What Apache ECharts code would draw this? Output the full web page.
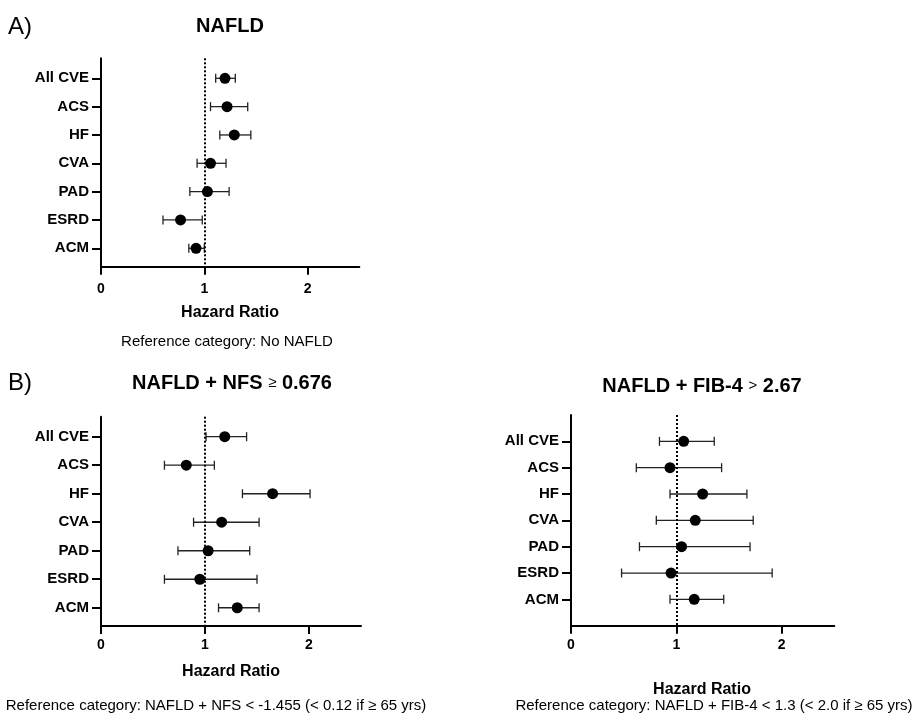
<!DOCTYPE html>
<html><head><meta charset="utf-8">
<script src="https://cdn.jsdelivr.net/npm/echarts@6/dist/echarts.min.js"></script>
<style>html,body{margin:0;padding:0;background:#fff}#c{width:919px;height:714px}</style>
</head><body><div id="c"></div>
<script>
// ---- data ----
const categories = ['All CVE', 'ACS', 'HF', 'CVA', 'PAD', 'ESRD', 'ACM'];
const xTicks = [0, 1, 2];

const nafldHR   = [1.20, 1.22, 1.29, 1.06, 1.03, 0.77, 0.92];
const nafldLow  = [1.11, 1.06, 1.15, 0.93, 0.86, 0.60, 0.85];
const nafldHigh = [1.30, 1.42, 1.45, 1.21, 1.24, 0.98, 1.00];

const nfsHR   = [1.19, 0.82, 1.65, 1.16, 1.03, 0.95, 1.31];
const nfsLow  = [1.01, 0.61, 1.36, 0.89, 0.74, 0.61, 1.13];
const nfsHigh = [1.40, 1.09, 2.01, 1.52, 1.43, 1.50, 1.52];

const fibHR   = [1.07, 0.94, 1.25, 1.18, 1.05, 0.95, 1.17];
const fibLow  = [0.84, 0.62, 0.94, 0.81, 0.65, 0.48, 0.94];
const fibHigh = [1.36, 1.43, 1.67, 1.73, 1.70, 1.91, 1.45];

// ---- layout ----
const panels = [
  { hr: nafldHR, lo: nafldLow, hi: nafldHigh, grid: { left: 101, right: 559.7, top: 58.3, bottom: 447.3 }, yMin: 0.294, yMax: 7.65, labelMargin: 15 },
  { hr: nfsHR, lo: nfsLow, hi: nfsHigh, grid: { left: 101, right: 558, top: 416.7, bottom: 88 }, yMin: 0.298, yMax: 7.64, labelMargin: 12 },
  { hr: fibHR, lo: fibLow, hi: fibHigh, grid: { left: 571, right: 84.7, top: 415, bottom: 88.3 }, yMin: 0, yMax: 8, labelMargin: 12 }
];

const FONT = '"Liberation Sans", Arial, sans-serif';
const grids = [], xAxes = [], yAxes = [], series = [];

panels.forEach((p, i) => {
  grids.push(Object.assign({ containLabel: false }, p.grid));
  xAxes.push({
    type: 'value', gridIndex: i, min: 0, max: 2.5, interval: 1,
    axisLine: { show: true, onZero: false, lineStyle: { color: '#000', width: 2 } },
    axisTick: { show: true, length: 8, lineStyle: { color: '#000', width: 2 }, customValues: xTicks },
    axisLabel: { customValues: xTicks, margin: p.labelMargin, color: '#000', fontFamily: FONT, fontWeight: 'bold', fontSize: 14 },
    splitLine: { show: false }
  });
  yAxes.push({
    type: 'value', gridIndex: i, inverse: true, min: p.yMin, max: p.yMax,
    axisLine: { show: true, onZero: false, lineStyle: { color: '#000', width: 2 } },
    axisTick: { show: true, length: 9, lineStyle: { color: '#000', width: 2 }, customValues: [1, 2, 3, 4, 5, 6, 7] },
    axisLabel: {
      customValues: [1, 2, 3, 4, 5, 6, 7], margin: 12, color: '#000',
      fontFamily: FONT, fontWeight: 'bold', fontSize: 15,
      formatter: v => categories[Math.round(v) - 1] || ''
    },
    splitLine: { show: false }
  });
  const errData = categories.map((c, k) => [p.lo[k], p.hi[k], k + 1]);
  series.push({
    type: 'custom', xAxisIndex: i, yAxisIndex: i, z: 2,
    data: errData,
    encode: { x: [0, 1], y: 2 },
    renderItem: (params, api) => {
      const a = api.coord([api.value(0), api.value(2)]);
      const b = api.coord([api.value(1), api.value(2)]);
      const h = 4.5;
      const st = { stroke: '#222', lineWidth: 1.3 };
      return {
        type: 'group', children: [
          { type: 'line', shape: { x1: a[0], y1: a[1], x2: b[0], y2: b[1] }, style: st },
          { type: 'line', shape: { x1: a[0], y1: a[1] - h, x2: a[0], y2: a[1] + h }, style: st },
          { type: 'line', shape: { x1: b[0], y1: b[1] - h, x2: b[0], y2: b[1] + h }, style: st }
        ]
      };
    },
    markLine: {
      silent: true, symbol: ['none', 'none'], label: { show: false },
      lineStyle: { color: '#000', width: 2, type: [2, 2] },
      data: [{ xAxis: 1 }], animation: false
    }
  });
  series.push({
    type: 'scatter', xAxisIndex: i, yAxisIndex: i, z: 5,
    symbol: 'circle', symbolSize: 11,
    itemStyle: { color: '#000', opacity: 1 },
    data: categories.map((c, k) => [p.hr[k], k + 1])
  });
});

function txt(x, y, text, font, extra) {
  return { type: 'text', x: x, y: y, silent: true,
    style: Object.assign({ text: text, font: font, fill: '#000', align: 'center', verticalAlign: 'middle' }, extra || {}) };
}
const boldT = 'bold 20px ' + FONT;
const graphics = [
  txt(8, 27, 'A)', '24px ' + FONT, { align: 'left' }),
  txt(8, 383, 'B)', '24px ' + FONT, { align: 'left' }),
  txt(230, 26, 'NAFLD', boldT),
  {
    type: 'text', x: 232, y: 383, silent: true,
    style: { text: '{b|NAFLD + NFS }{n|≥}{b| 0.676}', align: 'center', verticalAlign: 'middle',
      rich: { b: { font: boldT, fill: '#000' }, n: { font: '15px ' + FONT, fill: '#000' } } }
  },
  {
    type: 'text', x: 702, y: 386, silent: true,
    style: { text: '{b|NAFLD + FIB-4 }{n|>}{b| 2.67}', align: 'center', verticalAlign: 'middle',
      rich: { b: { font: boldT, fill: '#000' }, n: { font: '15px ' + FONT, fill: '#000' } } }
  },
  txt(230, 313, 'Hazard Ratio', 'bold 16px ' + FONT),
  txt(231, 672, 'Hazard Ratio', 'bold 16px ' + FONT),
  txt(702, 690, 'Hazard Ratio', 'bold 16px ' + FONT),
  txt(227, 342, 'Reference category: No NAFLD', '15px ' + FONT),
  txt(216, 706, 'Reference category: NAFLD + NFS < -1.455 (< 0.12 if ≥ 65 yrs)', '15px ' + FONT),
  txt(714, 706, 'Reference category: NAFLD + FIB-4 < 1.3 (< 2.0 if ≥ 65 yrs)', '15px ' + FONT)
];

const chart = echarts.init(document.getElementById('c'), null, { renderer: 'canvas' });
chart.setOption({
  animation: false,
  backgroundColor: '#fff',
  grid: grids, xAxis: xAxes, yAxis: yAxes, series: series,
  graphic: graphics
});
</script></body></html>
